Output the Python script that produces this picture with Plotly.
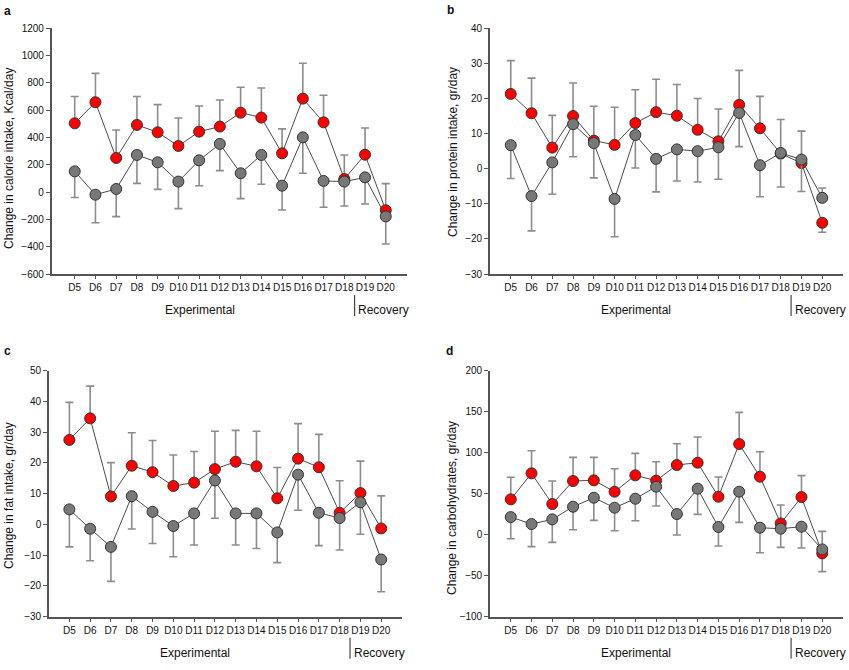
import plotly.graph_objects as go

days = ["D5", "D6", "D7", "D8", "D9", "D10", "D11", "D12", "D13", "D14",
        "D15", "D16", "D17", "D18", "D19", "D20"]

# Panel a: calorie intake (Kcal/day); signed errors: + = bar up, - = bar down
cal_red = [504, 658, 250, 492, 438, 338, 443, 480, 582, 546, 284, 685, 511, 96, 274, -133]
cal_red_err = [196, 212, 205, 208, 203, 205, 188, 195, 186, 217, 179, 259, 198, 176, 196, 195]
cal_gray = [152, -19, 23, 272, 218, 77, 233, 353, 138, 272, 47, 401, 82, 77, 108, -178]
cal_gray_err = [-192, -205, -203, -208, -198, -198, -186, -196, -186, -215, -178, -263, -193, -179, -195, -202]

# Panel b: protein intake (gr/day)
pro_red = [21.3, 15.8, 6.0, 15.0, 8.0, 6.8, 13.0, 16.1, 15.1, 11.1, 7.8, 18.2, 11.5, 4.3, 1.6, -15.4]
pro_red_err = [9.5, 10.0, 9.2, 9.4, 9.8, 10.7, 9.5, 9.4, 8.9, 8.9, 9.2, 9.8, 9.1, 9.7, 9.1, -2.7]
pro_gray = [6.7, -7.8, 1.8, 12.7, 7.3, -8.6, 9.6, 2.8, 5.5, 5.0, 6.1, 15.9, 1.0, 4.5, 2.6, -8.3]
pro_gray_err = [-9.5, -9.9, -9.1, -9.3, -9.9, -10.8, -9.4, -9.4, -9.0, -8.8, -9.1, -9.6, -9.0, -9.7, -9.1, 2.8]

# Panel c: fat intake (gr/day)
fat_red = [27.5, 34.5, 9.1, 19.1, 17.0, 12.5, 13.6, 18.0, 20.4, 18.9, 8.5, 21.4, 18.6, 3.8, 10.2, -1.3]
fat_red_err = [12.2, 10.5, 11.0, 10.7, 10.3, 10.1, 10.1, 12.3, 10.2, 11.4, 10.0, 11.4, 10.7, 10.4, 10.4, 10.6]
fat_gray = [4.9, -1.4, -7.3, 9.2, 4.1, -0.5, 3.6, 14.3, 3.6, 3.6, -2.6, 16.2, 3.8, 2.1, 7.2, -11.4]
fat_gray_err = [-12.2, -10.4, -11.2, -10.7, -10.3, -10.0, -10.3, -12.3, -10.3, -11.4, -9.8, -11.6, -10.7, -10.4, -10.4, -10.5]

# Panel d: carbohydrates (gr/day)
carb_red = [43.1, 74.8, 37.4, 65.5, 66.3, 52.4, 72.4, 65.9, 85.0, 87.8, 46.3, 110.6, 70.7, 13.8, 45.9, -22.8]
carb_red_err = [26.9, 27.6, 28.1, 28.8, 28.0, 28.1, 26.8, 23.1, 26.0, 31.3, 24.0, 38.6, 30.5, 22.4, 26.1, -22.2]
carb_gray = [21.5, 13.0, 18.7, 34.1, 45.1, 32.9, 43.9, 58.5, 25.2, 56.1, 9.4, 52.4, 8.5, 7.3, 9.8, -17.9]
carb_gray_err = [-26.4, -27.6, -28.1, -28.0, -27.6, -28.0, -26.8, -23.5, -25.6, -31.3, -23.2, -37.4, -30.5, -22.7, -26.1, 22.0]

y_titles = ["Change in calorie intake, Kcal/day", "Change in protein intake, gr/day",
            "Change in fat intake, gr/day", "Change in carbohydrates, gr/day"]
panel_letters = ["a", "b", "c", "d"]
y_ranges = [(-600, 1200, 200), (-30, 40, 10), (-30, 50, 10), (-100, 200, 50)]

W, H = 849, 670
FONT = "Arial, Liberation Sans, Helvetica, sans-serif"
AX = "#555555"

# pixel geometry of each panel: (x_left, x_right, y_top, y_bottom, x_range_left)
geom = [
    (51.7, 406.5, 28.3, 274.0, -1.11),
    (490.0, 843.0, 28.3, 274.0, -1.0),
    (49.0, 402.0, 370.7, 616.7, -0.98),
    (490.0, 843.0, 370.7, 616.7, -1.0),
]
title_pos = [(9, 159), (453, 152), (9, 496), (452, 508)]
letter_pos = [(8, 11), (450, 10), (8, 351), (449, 351)]

series = [
    (cal_red, cal_red_err, cal_gray, cal_gray_err),
    (pro_red, pro_red_err, pro_gray, pro_gray_err),
    (fat_red, fat_red_err, fat_gray, fat_gray_err),
    (carb_red, carb_red_err, carb_gray, carb_gray_err),
]

fig = go.Figure()
annotations = []
shapes = []

def up(e):
    return [max(v, 0) for v in e]

def down(e):
    return [max(-v, 0) for v in e]

for i, (red, red_err, gray, gray_err) in enumerate(series):
    n = i + 1
    xa = "x" if n == 1 else f"x{n}"
    ya = "y" if n == 1 else f"y{n}"
    for vals, err, col in ((red, red_err, "#ff0000"), (gray, gray_err, "#787878")):
        fig.add_trace(go.Scatter(
            x=days, y=vals, xaxis=xa, yaxis=ya, mode="lines+markers",
            line=dict(color="#4a4a4a", width=1),
            marker=dict(size=11, color=col, line=dict(color="#333333", width=1)),
            error_y=dict(type="data", symmetric=False, array=up(err), arrayminus=down(err),
                         color="#8c8c8c", thickness=1.6, width=4),
            showlegend=False, hoverinfo="skip"))
    xl, xr, yt, yb, xr0 = geom[i]
    lo, hi, dt = y_ranges[i]
    xkey = "xaxis" if n == 1 else f"xaxis{n}"
    ykey = "yaxis" if n == 1 else f"yaxis{n}"
    fig.update_layout(**{
        xkey: dict(domain=[xl / W, xr / W], anchor=ya, type="category",
                   range=[xr0, 16.0], showline=True, linecolor=AX, linewidth=1.6,
                   ticks="outside", ticklen=3, tickcolor=AX, tickwidth=1.2, showgrid=False,
                   zeroline=False, tickangle=0, automargin=False,
                   tickfont=dict(family=FONT, size=10, color="#111"),
                   fixedrange=True),
        ykey: dict(domain=[1 - yb / H, 1 - yt / H], anchor=xa, range=[lo, hi],
                   dtick=dt, tick0=lo, showline=True, linecolor=AX, linewidth=1.6,
                   ticks="outside", ticklen=4, tickcolor=AX, tickwidth=1.2, showgrid=False,
                   zeroline=False, automargin=False,
                   tickfont=dict(family=FONT, size=10, color="#111"),
                   fixedrange=True),
    })
    tx, ty = title_pos[i]
    annotations.append(dict(text=y_titles[i], x=tx / W, y=1 - ty / H, xref="paper", yref="paper",
                            textangle=-90, showarrow=False, xanchor="center", yanchor="middle",
                            font=dict(family=FONT, size=12, color="#111")))
    lx, ly = letter_pos[i]
    annotations.append(dict(text="<b>" + panel_letters[i] + "</b>", x=lx / W, y=1 - ly / H,
                            xref="paper", yref="paper", showarrow=False, xanchor="center",
                            yanchor="middle", font=dict(family=FONT, size=12, color="#111")))
    label_y = yb + 36
    annotations.append(dict(text="Experimental", x=6.05, y=1 - label_y / H, xref=xa, yref="paper",
                            showarrow=False, xanchor="center", yanchor="middle",
                            font=dict(family=FONT, size=12, color="#111")))
    annotations.append(dict(text="Recovery", x=13.58, y=1 - label_y / H, xref=xa, yref="paper",
                            showarrow=False, xanchor="left", yanchor="middle",
                            font=dict(family=FONT, size=12, color="#111")))
    shapes.append(dict(type="line", xref=xa, yref="paper", x0=13.5, x1=13.5,
                       y0=1 - (yb + 21) / H, y1=1 - (yb + 42) / H,
                       line=dict(color="#222", width=1)))

fig.update_layout(width=W, height=H, autosize=False,
                  margin=dict(l=0, r=0, t=0, b=0),
                  paper_bgcolor="white", plot_bgcolor="white",
                  annotations=annotations, shapes=shapes,
                  font=dict(family=FONT))

fig.write_html("out.html", config={"displayModeBar": False},
               post_script="document.body.style.margin='0';document.body.style.padding='0';")
